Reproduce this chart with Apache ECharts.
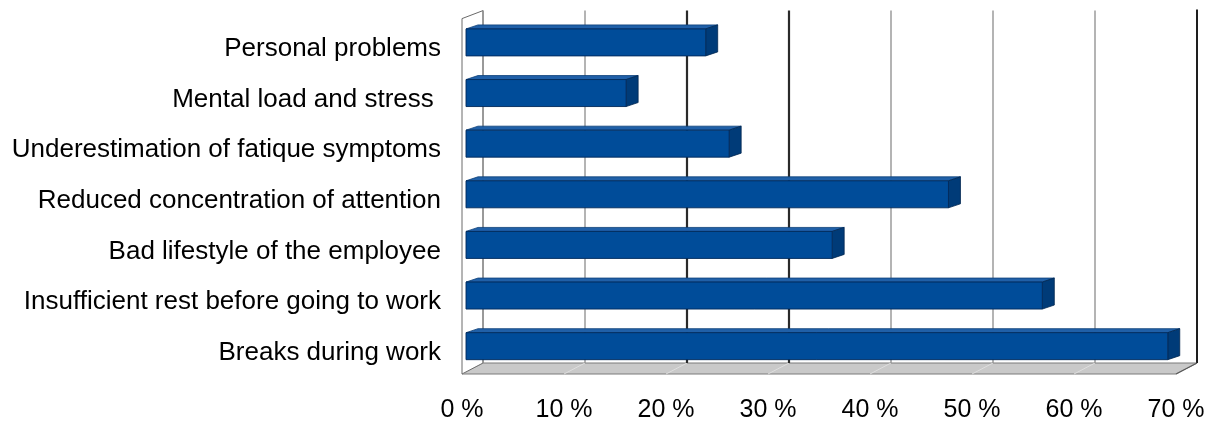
<!DOCTYPE html>
<html><head><meta charset="utf-8">
<script src="https://cdn.jsdelivr.net/npm/echarts@6/dist/echarts.min.js"></script>
<style>html,body{margin:0;padding:0;background:#fff}#c{width:1210px;height:423px}</style>
</head><body><div id="c"></div>
<script>
const categories = ['Personal problems','Mental load and stress ','Underestimation of fatique symptoms','Reduced concentration of attention','Bad lifestyle of the employee','Insufficient rest before going to work','Breaks during work'];
const values = [23.5, 15.7, 25.8, 47.3, 35.9, 56.5, 68.8];
const xTicks = [0, 10, 20, 30, 40, 50, 60, 70];
const darkTicks = [20, 30];

const FONT = "'Liberation Sans', Arial, sans-serif";
const WDX = -21, WDY = 10;      // depth of the 3D box
const BFX = -17;                // bar front offset
const BDX = 12, BDY = -4;       // bar depth

function renderFrame(params, api) {
  const n = categories.length;
  const band = api.size([0, 1])[1];
  const top = api.coord([0, 0])[1] - band / 2;
  const bottom = api.coord([0, n - 1])[1] + band / 2 - 2;
  const xL = api.coord([xTicks[0], 0])[0];
  const xR = api.coord([xTicks[xTicks.length - 1], 0])[0];
  const ch = [];
  ch.push({type: 'polygon', shape: {points: [[xL, bottom], [xR, bottom], [xR + WDX, bottom + WDY + 1], [xL + WDX, bottom + WDY + 1]]},
    style: {fill: '#c9c9c9', stroke: '#7a7a7a', lineWidth: 1}});
  xTicks.forEach(t => {
    const x = api.coord([t, 0])[0];
    ch.push({type: 'line', shape: {x1: x, y1: bottom, x2: x + WDX, y2: bottom + WDY + 1}, style: {stroke: '#dedede', lineWidth: 1}});
  });
  ch.push({type: 'polygon', shape: {points: [[xL, top], [xL, bottom], [xL + WDX, bottom + WDY + 1], [xL + WDX, top + WDY - 2]]},
    style: {fill: '#ffffff', stroke: '#6a6a6a', lineWidth: 1}});
  xTicks.slice(0, -1).forEach(t => {
    const x = api.coord([t, 0])[0];
    const dark = darkTicks.indexOf(t) >= 0;
    ch.push({type: 'line', shape: {x1: x, y1: top, x2: x, y2: bottom},
      style: {stroke: dark ? '#2a2a2a' : '#8c8c8c', lineWidth: dark ? 2.2 : 1.3}});
  });
  ch.push({type: 'line', shape: {x1: xR, y1: top - 1, x2: xR, y2: bottom}, style: {stroke: '#1e1e1e', lineWidth: 2}});
  ch.push({type: 'line', shape: {x1: xR, y1: bottom, x2: xR + WDX, y2: bottom + WDY + 1}, style: {stroke: '#555', lineWidth: 1.2}});
  return {type: 'group', children: ch};
}

function renderBar(params, api) {
  const idx = api.value(0), v = api.value(1);
  const p0 = api.coord([0, idx]), p1 = api.coord([v, idx]);
  const x0 = p0[0] + BFX, x1 = p1[0] + BFX, y0 = p0[1] - 7, y1 = p0[1] + 20;
  return {type: 'group', children: [
    {type: 'polygon', shape: {points: [[x0, y0], [x1, y0], [x1 + BDX, y0 + BDY], [x0 + BDX, y0 + BDY]]},
      style: {fill: '#2060a8', stroke: '#0b3f78', lineWidth: 0.8}},
    {type: 'polygon', shape: {points: [[x1, y0], [x1 + BDX, y0 + BDY], [x1 + BDX, y1 + BDY], [x1, y1]]},
      style: {fill: '#003b78', stroke: '#00264f', lineWidth: 0.8}},
    {type: 'rect', shape: {x: x0, y: y0, width: x1 - x0, height: y1 - y0},
      style: {fill: '#004c99', stroke: '#00295a', lineWidth: 0.9}}
  ]};
}

const chart = echarts.init(document.getElementById('c'), null, {renderer: 'canvas'});
chart.setOption({
  animation: false,
  backgroundColor: '#ffffff',
  grid: {left: 483, right: 13, top: 10.6, bottom: 56.8, containLabel: false},
  xAxis: {
    type: 'value', min: 0, max: 70, interval: 10,
    axisLine: {show: false}, axisTick: {show: false}, splitLine: {show: false},
    axisLabel: {formatter: '{value} %', fontSize: 25, color: '#000', fontFamily: FONT, margin: 33,
      padding: [0, 42, 0, 0], showMaxLabel: true, showMinLabel: true}
  },
  yAxis: {
    type: 'category', data: categories, inverse: true,
    axisLine: {show: false}, axisTick: {show: false}, splitLine: {show: false},
    axisLabel: {fontSize: 26, color: '#000', fontFamily: FONT, margin: 42, verticalAlign: 'top'}
  },
  series: [
    {type: 'custom', renderItem: renderFrame, data: [[0, 0]], encode: {x: 1, y: 0}, z: 1, silent: true, clip: false},
    {type: 'custom', renderItem: renderBar, data: values.map((v, i) => [i, v]), encode: {x: 1, y: 0}, z: 2, clip: false}
  ]
});
</script></body></html>
